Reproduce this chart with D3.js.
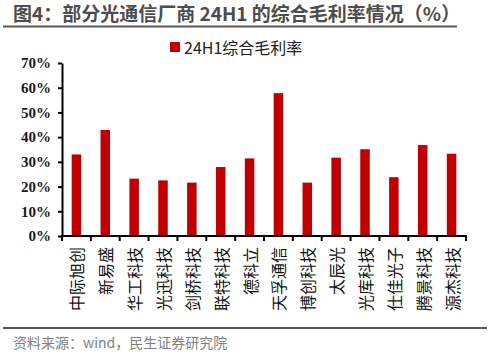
<!DOCTYPE html>
<html><head><meta charset="utf-8">
<script src="https://cdn.jsdelivr.net/npm/d3@7"></script>
<style>body{margin:0;background:#fff}svg{display:block}</style>
</head><body>
<svg id="c" width="491" height="356"></svg>
<script>
const categories = ["中际旭创","新易盛","华工科技","光迅科技","剑桥科技","联特科技","德科立","天孚通信","博创科技","太辰光","光库科技","仕佳光子","腾景科技","源杰科技"];
const values = [33.0, 42.9, 23.2, 22.5, 21.6, 27.9, 31.4, 57.8, 21.6, 31.7, 35.1, 23.8, 36.8, 33.3];
const yTicks = [0,10,20,30,40,50,60,70];
const seriesName = "24H1综合毛利率";

const svg = d3.select("#c");
const cjk = "'Noto Sans CJK SC', sans-serif";
const x0 = 62, x1 = 466, yTop = 63, yBot = 236;

// title
svg.append("text").attr("x",13).attr("y",21).attr("font-family",cjk).attr("font-weight","bold")
  .attr("font-size",19).attr("fill","#4d4d4d").text("图4：部分光通信厂商 24H1 的综合毛利率情况（%）");
svg.append("line").attr("x1",3).attr("x2",457).attr("y1",26.5).attr("y2",26.5).attr("stroke","#595959").attr("stroke-width",2);

// legend
svg.append("rect").attr("x",170).attr("y",42).attr("width",10).attr("height",10).attr("fill","#c00000");
svg.append("text").attr("x",184).attr("y",54).attr("font-family",cjk).attr("font-size",16).attr("fill","#222").text(seriesName);

const x = d3.scaleBand().domain(categories).range([x0,x1]).paddingInner(0.67).paddingOuter(0.335);
const y = d3.scaleLinear().domain([0,70]).range([yBot,yTop]);

// bars
svg.append("g").selectAll("rect").data(values).join("rect")
  .attr("x",(d,i)=>x(categories[i])).attr("width",x.bandwidth())
  .attr("y",d=>y(d)).attr("height",d=>yBot-y(d)).attr("fill","#c00000");

// y axis
const ya = svg.append("g").attr("transform",`translate(${x0},0)`)
  .call(d3.axisLeft(y).tickValues(yTicks).tickFormat(d=>d+"%").tickSize(4).tickSizeOuter(0));
ya.select(".domain").attr("stroke","#000").attr("stroke-width",2);
ya.selectAll(".tick line").attr("stroke","#000").attr("stroke-width",2);
ya.selectAll(".tick text").attr("font-family","'Liberation Serif', serif").attr("font-weight","bold")
  .attr("font-size",15).attr("fill","#1a1a1a").attr("x",-11);

// x axis
const step = (x1-x0)/categories.length;
const xa = svg.append("g");
xa.append("line").attr("x1",x0-1).attr("x2",x1+1).attr("y1",yBot).attr("y2",yBot).attr("stroke","#000").attr("stroke-width",2);
xa.selectAll("line.t").data(d3.range(categories.length+1)).join("line").attr("class","t")
  .attr("x1",i=>x0+i*step).attr("x2",i=>x0+i*step).attr("y1",yBot).attr("y2",yBot+5)
  .attr("stroke","#000").attr("stroke-width",2);

// rotated labels
svg.append("g").selectAll("text").data(categories).join("text")
  .attr("font-family",cjk).attr("font-size",16).attr("fill","#111").attr("text-anchor","end")
  .attr("dominant-baseline","central")
  .attr("transform",c=>`translate(${x(c)+x.bandwidth()/2},247) rotate(-90)`)
  .text(c=>c);

// bottom
svg.append("line").attr("x1",3).attr("x2",487).attr("y1",328).attr("y2",328).attr("stroke","#595959").attr("stroke-width",2);
svg.append("text").attr("x",13).attr("y",348).attr("font-family",cjk).attr("font-size",14).attr("fill","#7f7f7f").text("资料来源：wind，民生证券研究院");
</script>
</body></html>
